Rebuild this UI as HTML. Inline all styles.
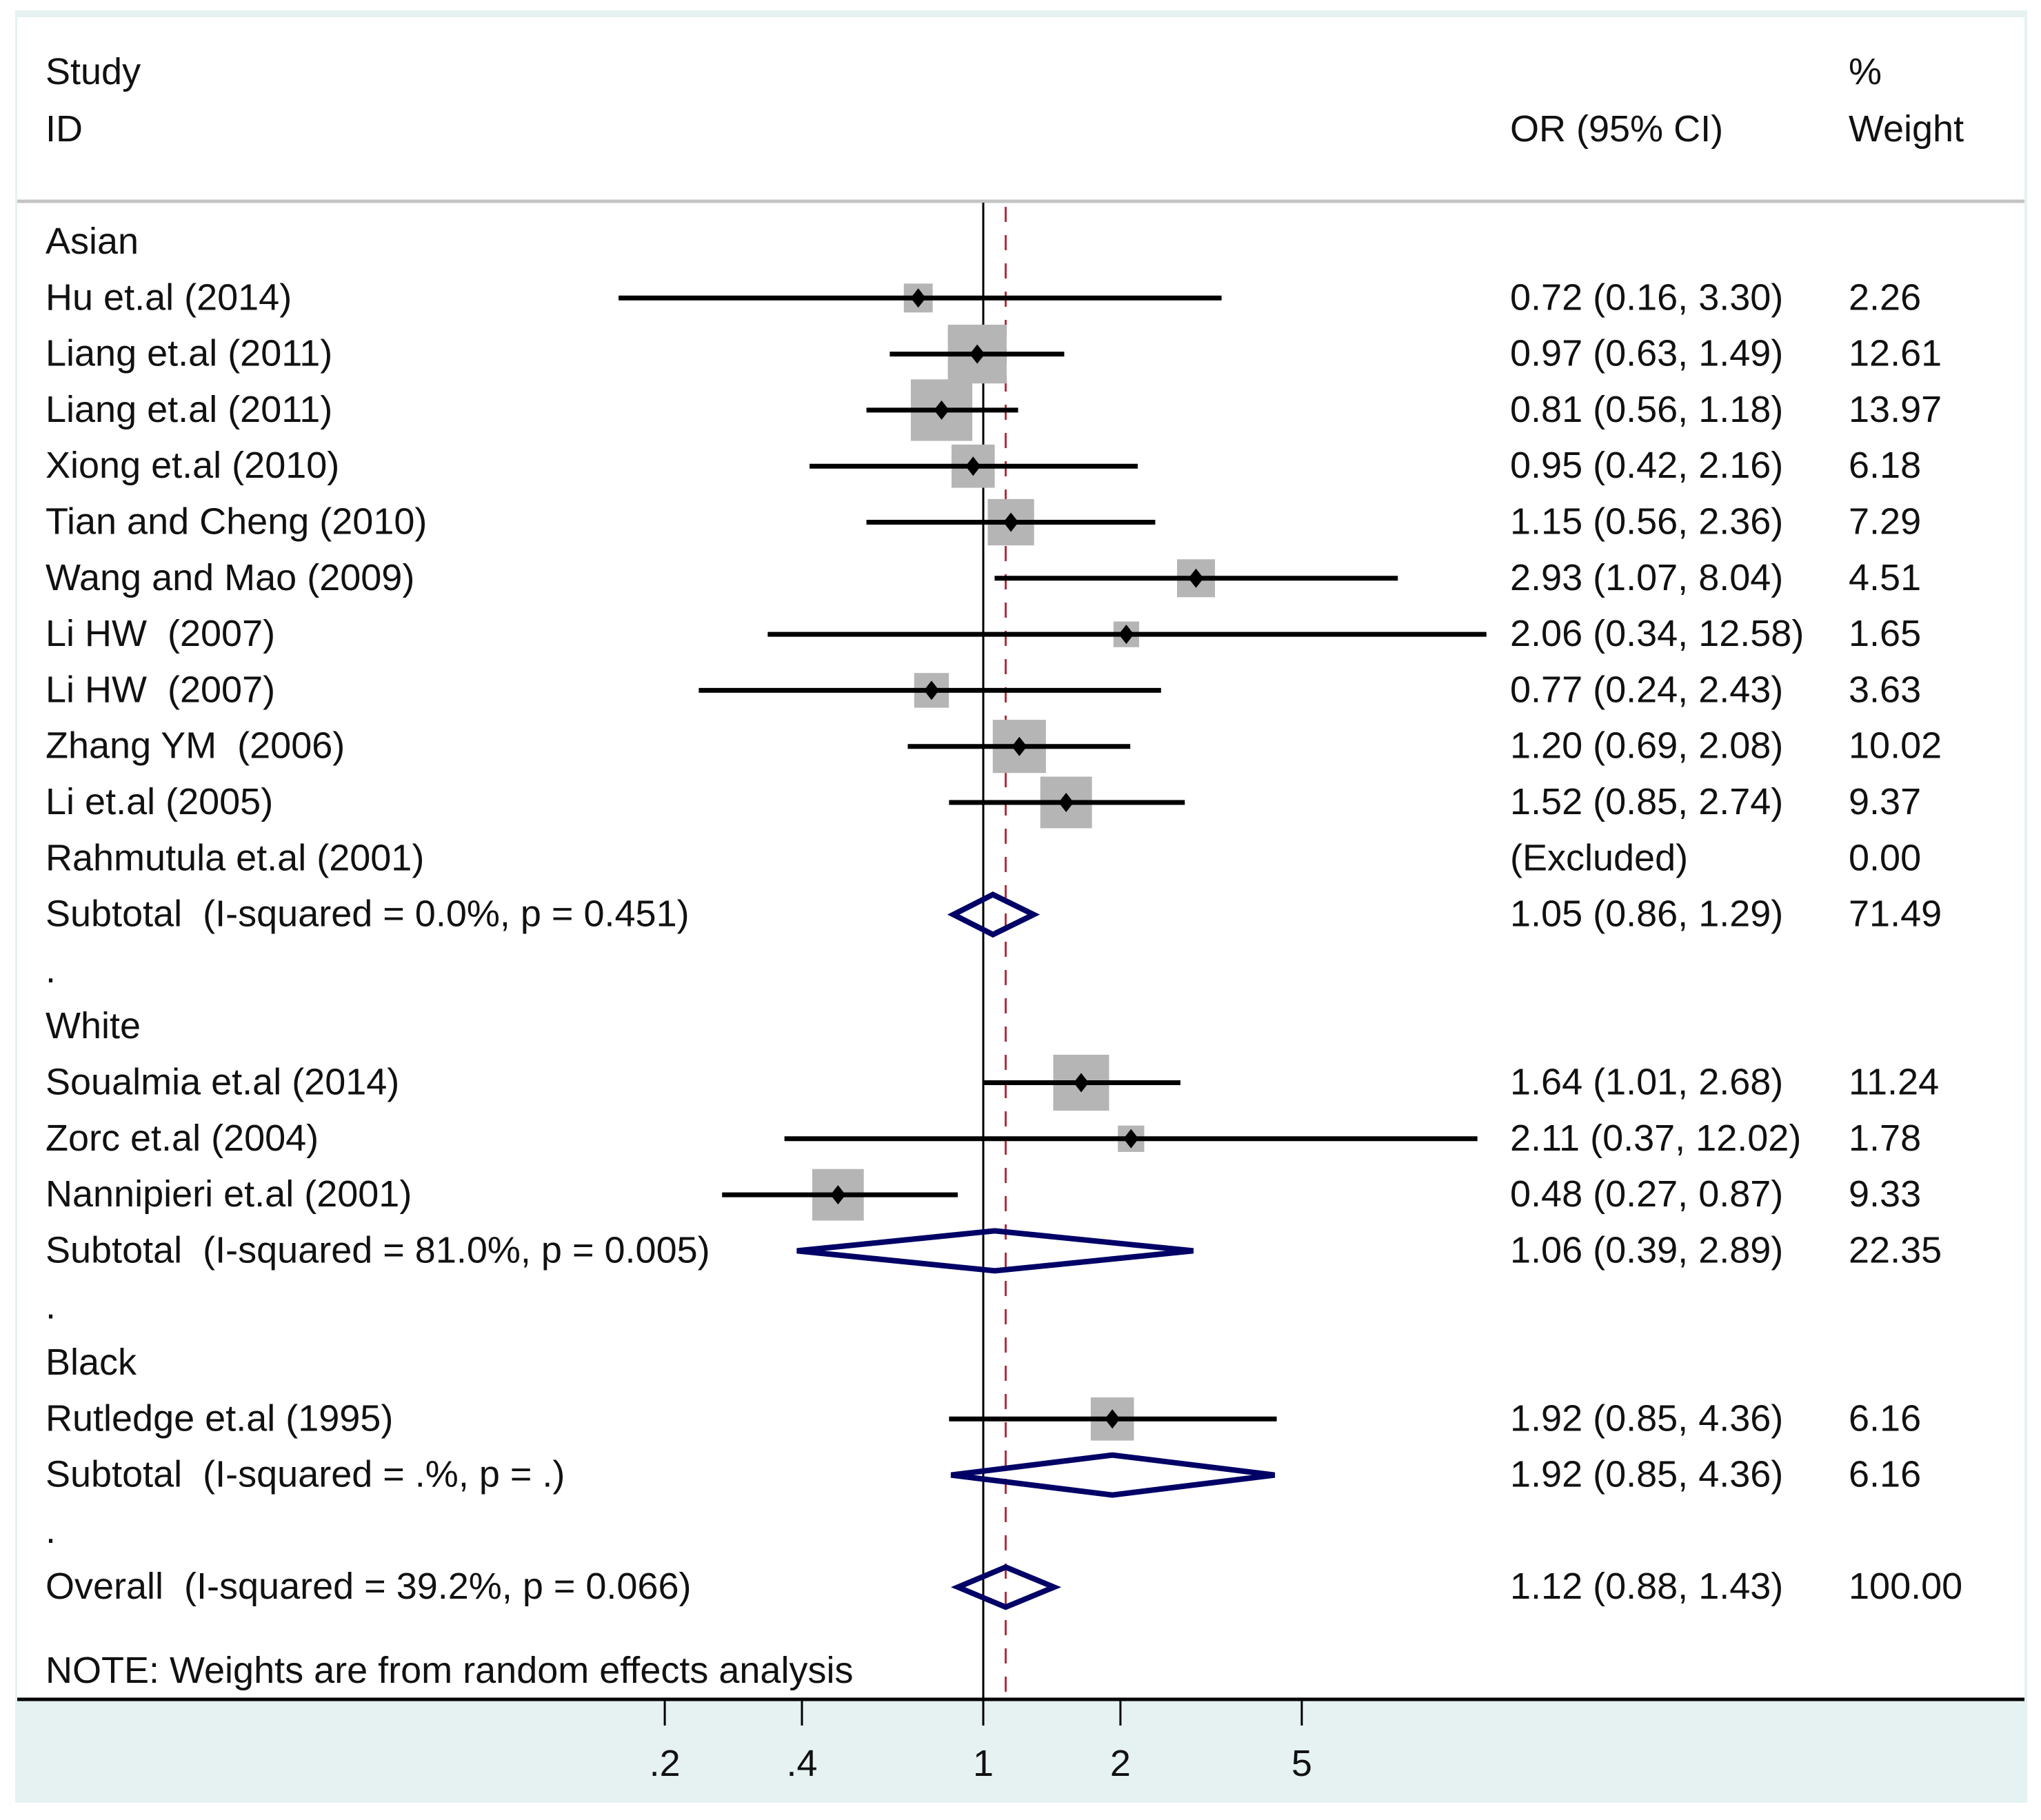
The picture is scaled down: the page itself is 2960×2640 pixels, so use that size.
<!DOCTYPE html>
<html><head><meta charset="utf-8">
<style>
html,body{margin:0;padding:0;background:#fff;}
svg{display:block;}
text{font-family:"Liberation Sans",Arial,sans-serif;font-size:54px;fill:#111;white-space:pre;}
</style></head>
<body>
<svg id="chart" width="2960" height="2640" viewBox="0 0 2960 2640" xmlns="http://www.w3.org/2000/svg">
<rect x="22" y="15" width="2918" height="2600" fill="#e6f1f1"/>
<rect x="25" y="25" width="2911" height="2439" fill="#fff"/>
<line x1="25" x2="2936" y1="292" y2="292" stroke="#c4c4c4" stroke-width="5"/>
<text x="66" y="122">Study</text>
<text x="66" y="205">ID</text>
<text x="2190" y="205">OR (95% CI)</text>
<text x="2681" y="122">%</text>
<text x="2681" y="205">Weight</text>
<g id="marks"></g>
</svg>
<script>
// data
const labels = ["Asian","Hu et.al (2014)","Liang et.al (2011)","Liang et.al (2011)","Xiong et.al (2010)","Tian and Cheng (2010)","Wang and Mao (2009)","Li HW  (2007)","Li HW  (2007)","Zhang YM  (2006)","Li et.al (2005)","Rahmutula et.al (2001)","Subtotal  (I-squared = 0.0%, p = 0.451)",".","White","Soualmia et.al (2014)","Zorc et.al (2004)","Nannipieri et.al (2001)","Subtotal  (I-squared = 81.0%, p = 0.005)",".","Black","Rutledge et.al (1995)","Subtotal  (I-squared = .%, p = .)",".","Overall  (I-squared = 39.2%, p = 0.066)"];
const kinds = ["h","s","s","s","s","s","s","s","s","s","s","x","d","b","h","s","s","s","d","b","h","s","d","b","d"];
const orVals = [null,0.72,0.97,0.81,0.95,1.15,2.93,2.06,0.77,1.20,1.52,null,1.05,null,null,1.64,2.11,0.48,1.06,null,null,1.92,1.92,null,1.12];
const loVals = [null,0.16,0.63,0.56,0.42,0.56,1.07,0.34,0.24,0.69,0.85,null,0.86,null,null,1.01,0.37,0.27,0.39,null,null,0.85,0.85,null,0.88];
const hiVals = [null,3.30,1.49,1.18,2.16,2.36,8.04,12.58,2.43,2.08,2.74,null,1.29,null,null,2.68,12.02,0.87,2.89,null,null,4.36,4.36,null,1.43];
const ciText = ["","0.72 (0.16, 3.30)","0.97 (0.63, 1.49)","0.81 (0.56, 1.18)","0.95 (0.42, 2.16)","1.15 (0.56, 2.36)","2.93 (1.07, 8.04)","2.06 (0.34, 12.58)","0.77 (0.24, 2.43)","1.20 (0.69, 2.08)","1.52 (0.85, 2.74)","(Excluded)","1.05 (0.86, 1.29)","","","1.64 (1.01, 2.68)","2.11 (0.37, 12.02)","0.48 (0.27, 0.87)","1.06 (0.39, 2.89)","","","1.92 (0.85, 4.36)","1.92 (0.85, 4.36)","","1.12 (0.88, 1.43)"];
const weights = [null,2.26,12.61,13.97,6.18,7.29,4.51,1.65,3.63,10.02,9.37,0.00,71.49,null,null,11.24,1.78,9.33,22.35,null,null,6.16,6.16,null,100.00];
const tickVals = [0.2,0.4,1,2,5];
const tickLabels = [".2",".4","1","2","5"];
const overallOR = 1.12;

const NS="http://www.w3.org/2000/svg";
const g=document.getElementById('marks');
const X=v=>1426+287*Math.log(v);
const Y=i=>351+81.3*i;
function mk(tag,attrs,parent){const e=document.createElementNS(NS,tag);for(const k in attrs)e.setAttribute(k,attrs[k]);(parent||g).appendChild(e);return e;}

let l1=mk('line',{x1:X(1),x2:X(1),y1:294,y2:2464,stroke:'#000','stroke-width':3});


let l2=mk('line',{x1:X(overallOR),x2:X(overallOR),y1:300,y2:2464,stroke:'#b03040','stroke-width':3,'stroke-dasharray':'22 19'});



labels.forEach((lab,i)=>{
  const y=Y(i);
  const t=mk('text',{x:66,y:y+17});t.textContent=lab;
  
  
  if(ciText[i]){const c=mk('text',{x:2190,y:y+17});c.textContent=ciText[i];
    
    }
  if(weights[i]!==null){const w=mk('text',{x:2681,y:y+17});w.textContent=weights[i].toFixed(2);
    
    }
  if(kinds[i]==='s'){
    const s=21.2*Math.sqrt(weights[i])+10;
    const sq=mk('rect',{x:X(orVals[i])-s/2,y:y-s/2,width:s,height:s,fill:'#b5b5b5'});
    
    
    const ci=mk('line',{x1:X(loVals[i])-3,x2:X(hiVals[i])+3,y1:y,y2:y,stroke:'#000','stroke-width':7});
    
    
    const px=X(orVals[i]);
    const pt=mk('path',{d:`M${px} ${y-14} L${px+11} ${y} L${px} ${y+14} L${px-11} ${y} Z`,fill:'#000'});
    
    
  } else if(kinds[i]==='d'){
    const a=X(loVals[i]),b=X(hiVals[i]),m=X(orVals[i]);
    const d=mk('path',{d:`M${a} ${y} L${m} ${y-29} L${b} ${y} L${m} ${y+29} Z`,fill:'none',stroke:'#000066','stroke-width':8});
    
    
  }
});

const note=mk('text',{x:66,y:2441});note.textContent='NOTE: Weights are from random effects analysis';



const ax=mk('line',{x1:25,x2:2936,y1:2465,y2:2465,stroke:'#000','stroke-width':5});


tickVals.forEach((v,i)=>{
  const tk=mk('line',{x1:X(v),x2:X(v),y1:2465,y2:2503,stroke:'#000','stroke-width':3});
  
  
  const tl=mk('text',{x:X(v),y:2576,'text-anchor':'middle'});tl.textContent=tickLabels[i];
  
  
});
</script>
</body></html>
